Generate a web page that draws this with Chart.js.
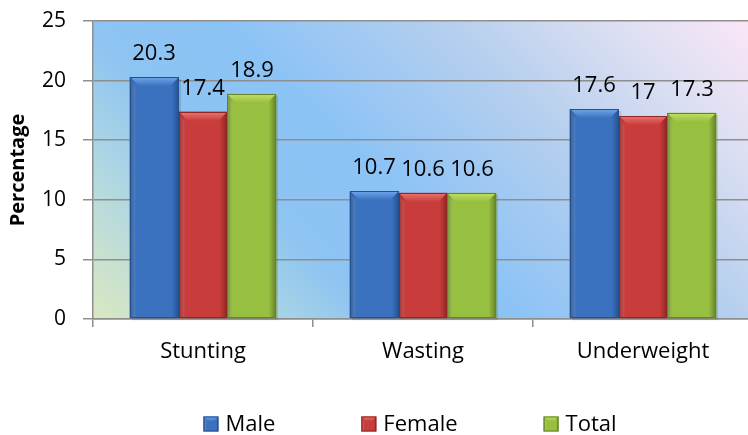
<!DOCTYPE html>
<html>
<head>
<meta charset="utf-8">
<script src="https://cdn.jsdelivr.net/npm/chart.js@4"></script>
<style>
  html, body { margin: 0; padding: 0; background: #ffffff; overflow: hidden; }
  #wrap { width: 760px; height: 435px; }
</style>
</head>
<body>
<div id="wrap"><canvas id="c" width="760" height="435"></canvas></div>
<script>
// Nutritional status by sex
const categories = ['Stunting', 'Wasting', 'Underweight'];
const seriesNames = ['Male', 'Female', 'Total'];
const maleValues = [20.3, 10.7, 17.6];
const femaleValues = [17.4, 10.6, 17];
const totalValues = [18.9, 10.6, 17.3];
const yTicks = [0, 5, 10, 15, 20, 25];

const FONT = "'Open Sans', 'Noto Sans', sans-serif";

// base, light (top bevel), dark (edges) for each series
const palette = [
  { base: '#3b72c0', light: '#6fa8ec', dark: '#24508f' },
  { base: '#c83d3b', light: '#ec7472', dark: '#8e2624' },
  { base: '#97bf40', light: '#c2e062', dark: '#66822a' }
];

// Plot area background: diagonal wash from pale green through blue to pink
const plotBackground = {
  id: 'plotBackground',
  beforeDraw(chart) {
    const { ctx, chartArea: a } = chart;
    const span = (a.right - a.left) + (a.bottom - a.top);
    const g = ctx.createLinearGradient(a.left, a.bottom, a.left + span / 2, a.bottom - span / 2);
    g.addColorStop(0.00, '#dbe8c2');
    g.addColorStop(0.18, '#acd6e4');
    g.addColorStop(0.30, '#8ec4f2');
    g.addColorStop(0.45, '#8cc3f6');
    g.addColorStop(0.68, '#b6cfee');
    g.addColorStop(0.85, '#dcdff2');
    g.addColorStop(1.00, '#fbe6f7');
    ctx.save();
    ctx.fillStyle = g;
    ctx.fillRect(a.left, a.top, a.right - a.left, a.bottom - a.top);
    ctx.restore();
  }
};

function bevelRect(ctx, x0, y0, x1, y1, col, b) {
  const w = x1 - x0;
  // side shading
  const hg = ctx.createLinearGradient(x0, 0, x1, 0);
  hg.addColorStop(0, col.dark);
  hg.addColorStop(0.12, col.base);
  hg.addColorStop(0.85, col.base);
  hg.addColorStop(1, col.dark);
  ctx.fillStyle = hg;
  ctx.fillRect(x0, y0, w, y1 - y0);
  // top bevel
  ctx.beginPath();
  ctx.moveTo(x0, y0);
  ctx.lineTo(x1, y0);
  ctx.lineTo(x1 - b, y0 + b);
  ctx.lineTo(x0 + b, y0 + b);
  ctx.closePath();
  const tg = ctx.createLinearGradient(0, y0, 0, y0 + b);
  tg.addColorStop(0, col.light);
  tg.addColorStop(1, col.base);
  ctx.fillStyle = tg;
  ctx.fill();
  // left bevel
  ctx.beginPath();
  ctx.moveTo(x0, y0);
  ctx.lineTo(x0 + b * 0.6, y0 + b);
  ctx.lineTo(x0 + b * 0.6, y1);
  ctx.lineTo(x0, y1);
  ctx.closePath();
  ctx.fillStyle = 'rgba(255,255,255,0.10)';
  ctx.fill();
  // outline
  ctx.strokeStyle = col.dark;
  ctx.lineWidth = 1;
  ctx.strokeRect(x0 + 0.5, y0 + 0.5, w - 1, y1 - y0 - 1);
}

// Bevelled bar faces drawn over the plain bars
const bevelBars = {
  id: 'bevelBars',
  afterDatasetsDraw(chart) {
    const { ctx } = chart;
    ctx.save();
    chart.data.datasets.forEach((ds, di) => {
      const meta = chart.getDatasetMeta(di);
      const col = palette[di];
      meta.data.forEach(bar => {
        const { x, y, base, width } = bar.getProps(['x', 'y', 'base', 'width'], true);
        const x0 = Math.round(x - width / 2), x1 = Math.round(x + width / 2);
        // soft shadow on the right and below
        ctx.fillStyle = 'rgba(0,0,0,0.12)';
        ctx.fillRect(x0 + 2, y + 2, x1 - x0, base - y);
        bevelRect(ctx, x0, Math.round(y), x1, Math.round(base), col, 9);
      });
    });
    ctx.restore();
  }
};

// Value labels above each bar
const valueLabels = {
  id: 'valueLabels',
  afterDatasetsDraw(chart) {
    const { ctx } = chart;
    ctx.save();
    ctx.font = '22px ' + FONT;
    ctx.fillStyle = '#000000';
    ctx.textAlign = 'center';
    ctx.textBaseline = 'alphabetic';
    chart.data.datasets.forEach((ds, di) => {
      const meta = chart.getDatasetMeta(di);
      meta.data.forEach((bar, i) => {
        ctx.fillText(String(ds.data[i]), bar.x, bar.y - 17);
      });
    });
    ctx.restore();
  }
};

// Legend row along the bottom
const bottomLegend = {
  id: 'bottomLegend',
  afterDraw(chart) {
    const { ctx } = chart;
    ctx.save();
    ctx.font = '22px ' + FONT;
    ctx.textBaseline = 'middle';
    ctx.textAlign = 'left';
    const box = 15, gapText = 7, gapItem = 86, cy = 424;
    const widths = seriesNames.map(n => box + gapText + ctx.measureText(n).width);
    const total = widths.reduce((s, w) => s + w, 0) + gapItem * (seriesNames.length - 1);
    let x = 410 - total / 2;
    seriesNames.forEach((name, i) => {
      bevelRect(ctx, x, cy - box / 2, x + box, cy + box / 2, palette[i], 5);
      ctx.fillStyle = '#000000';
      ctx.fillText(name, x + box + gapText, cy + 1);
      x += widths[i] + gapItem;
    });
    ctx.restore();
  }
};

const gridGray = '#8e8e8e';

new Chart(document.getElementById('c'), {
  type: 'bar',
  data: {
    labels: categories,
    datasets: [
      { label: seriesNames[0], data: maleValues, backgroundColor: palette[0].base },
      { label: seriesNames[1], data: femaleValues, backgroundColor: palette[1].base },
      { label: seriesNames[2], data: totalValues, backgroundColor: palette[2].base }
    ]
  },
  options: {
    responsive: false,
    animation: false,
    devicePixelRatio: 1,
    layout: { padding: { top: 21, right: 7, left: 0, bottom: 0 } },
    datasets: { bar: { categoryPercentage: 0.668, barPercentage: 1.0, borderWidth: 0 } },
    plugins: {
      legend: { display: false },
      tooltip: { enabled: false }
    },
    scales: {
      x: {
        afterFit(scale) {
          scale.height = 116;
          scale.paddingLeft = 0;
          scale.paddingRight = 0;
        },
        grid: {
          offset: true,
          drawOnChartArea: false,
          drawTicks: true,
          tickLength: 8,
          color: gridGray,
          lineWidth: 1.5
        },
        border: { display: true, color: gridGray, width: 1.5 },
        ticks: {
          color: '#000000',
          padding: 12,
          font: { family: FONT, size: 22 }
        }
      },
      y: {
        min: 0,
        max: 25,
        afterFit(scale) {
          scale.width = 93;
          scale.paddingTop = 0;
          scale.paddingBottom = 0;
        },
        afterBuildTicks(scale) { scale.ticks = yTicks.map(v => ({ value: v })); },
        grid: {
          color: gridGray,
          lineWidth: 1.5,
          tickLength: 10
        },
        border: { display: true, color: gridGray, width: 1.5 },
        ticks: {
          color: '#000000',
          padding: 17,
          font: { family: FONT, size: 21 }
        },
        title: {
          display: true,
          text: 'Percentage',
          color: '#000000',
          padding: { top: 6, bottom: 0 },
          font: { family: FONT, size: 20, weight: 'bold' }
        }
      }
    }
  },
  plugins: [plotBackground, bevelBars, valueLabels, bottomLegend]
});
</script>
</body>
</html>
